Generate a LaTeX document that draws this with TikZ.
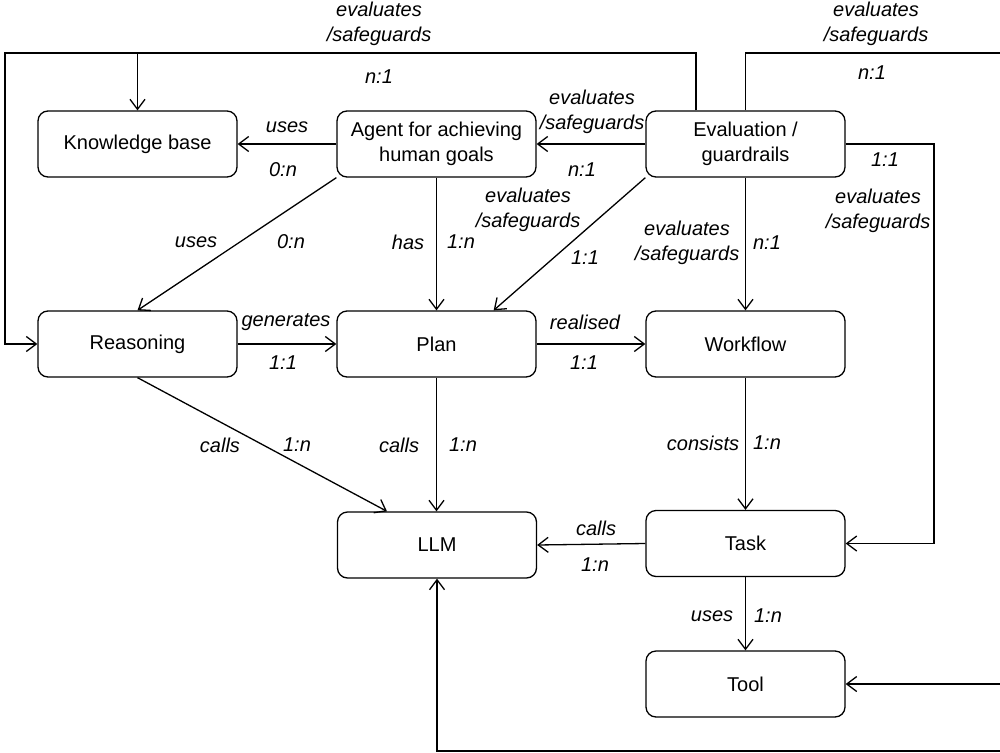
\documentclass[tikz,border=0pt]{standalone}
\usepackage{fontspec}
\setmainfont{Liberation Sans}
\usetikzlibrary{arrows.meta}
\begin{document}
\begin{tikzpicture}[x=1pt,y=-1pt,
  box/.style={draw, line width=1.3pt, rounded corners=10pt, minimum width=199pt, minimum height=66pt, inner sep=0pt, align=center, font=\fontsize{20}{25}\selectfont},
  lbl/.style={inner sep=0pt, align=center, font=\fontsize{20}{25}\selectfont\itshape},
  arr/.style={line width=1.3pt, -{Straight Barb[length=10pt,width=15pt,line width=1.3pt]}},
  ln/.style={line width=1.3pt}]
\useasboundingbox (0,0) rectangle (1000,752);
\clip (0,0) rectangle (1000,752);
% nodes
\node[box] (kb) at (137.5,144) {Knowledge base};
\node[box] (agent) at (436.5,144) {Agent for achieving\\human goals};
\node[box] (eval) at (745.5,144) {Evaluation /\\guardrails};
\node[box] (reason) at (137.5,344) {Reasoning};
\node[box] (plan) at (436.5,344) {Plan};
\node[box] (wf) at (745.5,344) {Workflow};
\node[box] (llm) at (437,545) {LLM};
\node[box] (task) at (745.5,543.5) {Task};
\node[box] (tool) at (745.5,684) {Tool};
% helper coordinates
\coordinate (topL) at (5,53);
\coordinate (topR) at (1015,53);
\coordinate (rx) at (934,0);
\coordinate (botR) at (1015,751);
% connectors
\draw[arr] ([xshift=-49.5pt]eval.north) |- (topL) |- (reason.west);
\draw[arr] (kb.north |- topL) -- (kb.north);
\draw[arr] (eval.north) |- (topR) |- (tool.east);
\draw[arr] (eval.west) -- (agent.east);
\draw[arr] (eval.east) -- (eval.east -| rx) |- (task.east);
\draw[arr] (eval.south) -- (wf.north);
\draw[arr] (eval.south west) -- ([xshift=-43pt]plan.north east);
\draw[arr] (agent.west) -- (kb.east);
\draw[arr] (agent.south west) -- (reason.north);
\draw[arr] (agent.south) -- (plan.north);
\draw[arr] (reason.east) -- (plan.west);
\draw[arr] (plan.east) -- (wf.west);
\draw[arr] (reason.south) -- ([xshift=-50pt]llm.north);
\draw[arr] (plan.south) -- (plan.south |- llm.north);
\draw[arr] (wf.south) -- (task.north);
\draw[arr] (task.west) -- (llm.east);
\draw[arr] (task.south) -- (tool.north);
\draw[arr] (botR) -| (llm.south);
% labels
\node[lbl] (l1) at (379,24) {evaluates\\/safeguards};
\node[lbl] (l2) at (379,77) {n:1};
\node[lbl] (l3) at (876,24) {evaluates\\/safeguards};
\node[lbl] (l4) at (872,73) {n:1};
\node[lbl] (l5) at (592,112) {evaluates\\/safeguards};
\node[lbl] (l6) at (582,170) {n:1};
\node[lbl] (l7) at (885,160) {1:1};
\node[lbl] (l8) at (878,211) {evaluates\\/safeguards};
\node[lbl] (l9) at (687,243) {evaluates\\/safeguards};
\node[lbl] (l10) at (767,243) {n:1};
\node[lbl] (l11) at (528,210) {evaluates\\/safeguards};
\node[lbl] (l12) at (585,258) {1:1};
\node[lbl] (l13) at (287,127) {uses};
\node[lbl] (l14) at (283,170) {0:n};
\node[lbl] (l15) at (196,242) {uses};
\node[lbl] (l16) at (291,242) {0:n};
\node[lbl] (l17) at (408,242) {has};
\node[lbl] (l18) at (461,242) {1:n};
\node[lbl] (l19) at (286,322) {generates};
\node[lbl] (l20) at (283,363) {1:1};
\node[lbl] (l21) at (585,322) {realised};
\node[lbl] (l22) at (584,363) {1:1};
\node[lbl] (l23) at (220,445) {calls};
\node[lbl] (l24) at (297,445) {1:n};
\node[lbl] (l25) at (399,445) {calls};
\node[lbl] (l26) at (463,445) {1:n};
\node[lbl] (l27) at (703,443) {consists};
\node[lbl] (l28) at (767,443) {1:n};
\node[lbl] (l29) at (596,528) {calls};
\node[lbl] (l30) at (595,565) {1:n};
\node[lbl] (l31) at (712,616) {uses};
\node[lbl] (l32) at (768,616) {1:n};
\end{tikzpicture}
\end{document}
